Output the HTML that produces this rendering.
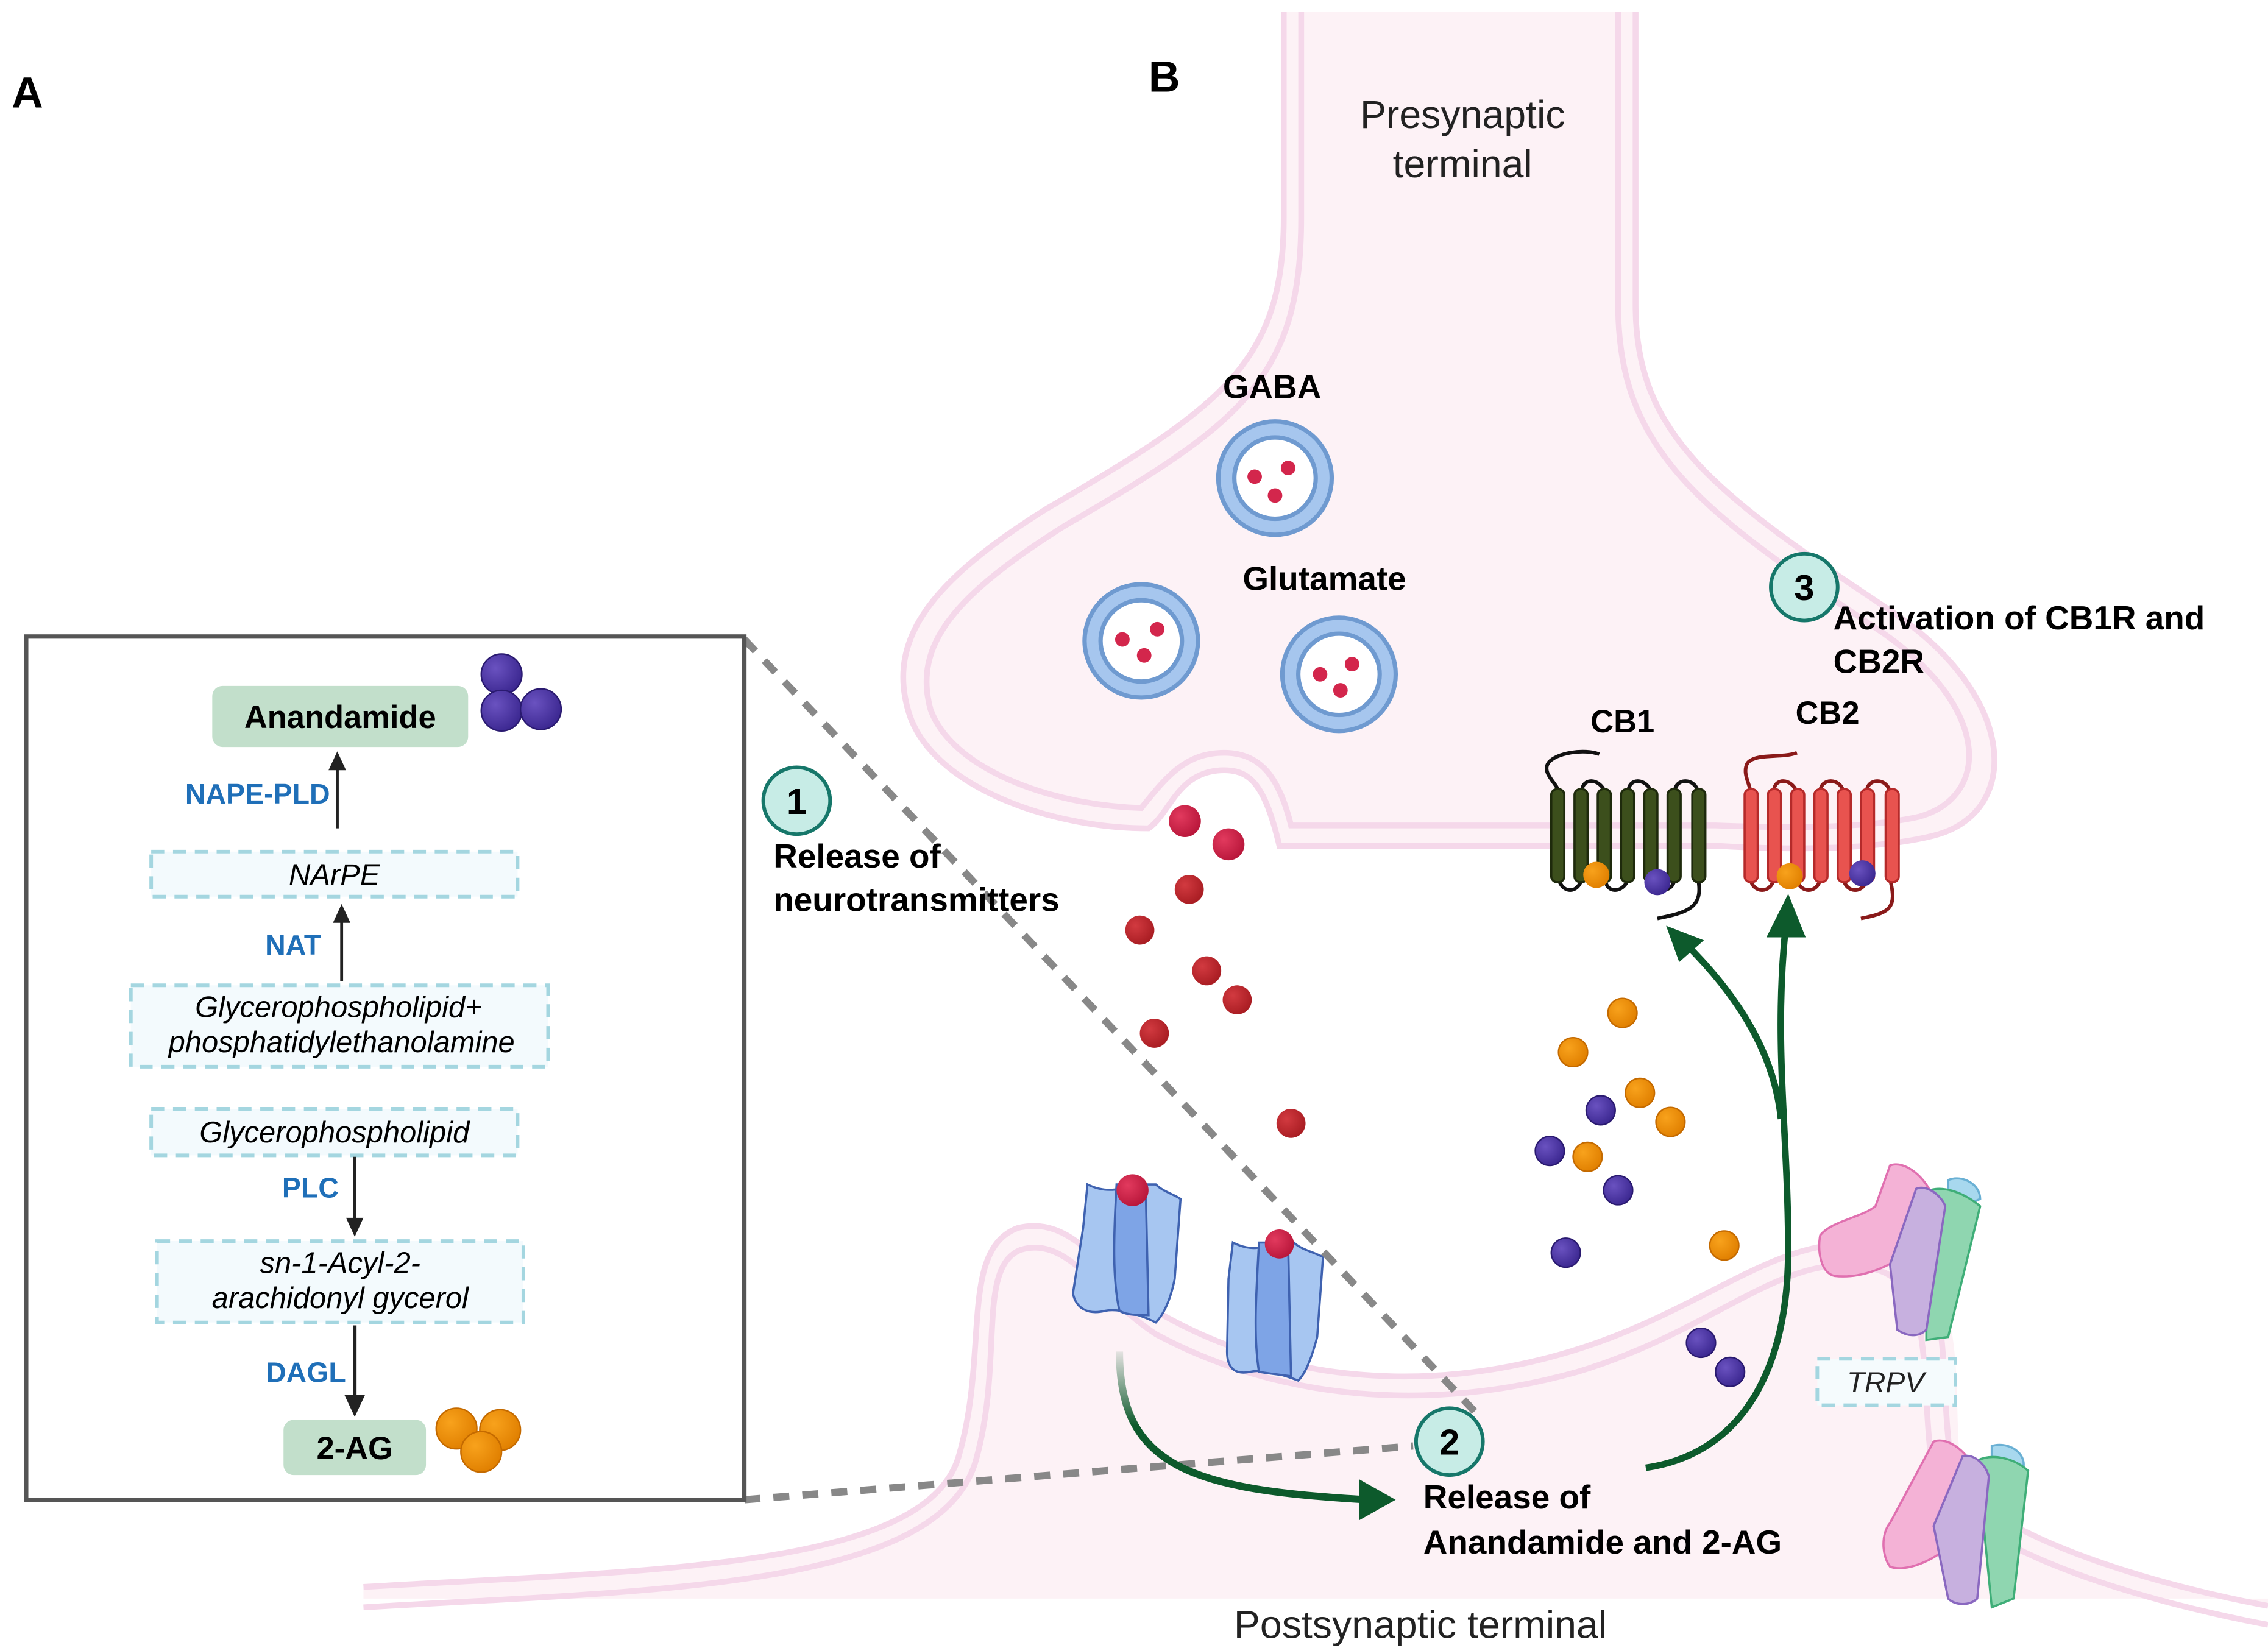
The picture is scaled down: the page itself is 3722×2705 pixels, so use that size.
<!DOCTYPE html>
<html><head><meta charset="utf-8"><style>
html,body{margin:0;padding:0;background:#fff}
svg{display:block}
text{font-family:"Liberation Sans",Arial,sans-serif}
</style></head><body>
<svg width="3722" height="2705" viewBox="0 0 1560 1134" preserveAspectRatio="none" xmlns="http://www.w3.org/2000/svg">
<defs>
<radialGradient id="pu" cx="0.35" cy="0.35" r="0.7"><stop offset="0" stop-color="#6a52c0"/><stop offset="1" stop-color="#3b2790"/></radialGradient>
<radialGradient id="or" cx="0.35" cy="0.35" r="0.7"><stop offset="0" stop-color="#f8a21c"/><stop offset="1" stop-color="#e07f00"/></radialGradient>
<radialGradient id="rd" cx="0.35" cy="0.35" r="0.7"><stop offset="0" stop-color="#d23a40"/><stop offset="1" stop-color="#a81c22"/></radialGradient>
<radialGradient id="rs" cx="0.35" cy="0.35" r="0.7"><stop offset="0" stop-color="#e23a5e"/><stop offset="1" stop-color="#b8163a"/></radialGradient>
<linearGradient id="ag" x1="0" y1="0" x2="0" y2="1"><stop offset="0" stop-color="#0d5a2c" stop-opacity="0.1"/><stop offset="0.5" stop-color="#0d5a2c"/></linearGradient>
</defs>
<rect width="1560" height="1134" fill="#fff"/>

<!-- Postsynaptic -->
<path d="M250 1100 L250 1092 C450 1080 640 1080 660 1000 C680 930 660 860 700 845 C740 835 760 880 800 905 C880 950 980 960 1080 930 C1180 900 1230 840 1300 860 C1360 880 1340 960 1350 1020 C1380 1060 1480 1090 1560 1105 L1560 1100 Z" fill="#fdf2f6"/>
<path d="M250 1092 C450 1080 640 1080 660 1000 C680 930 660 860 700 845 C740 835 760 880 800 905 C880 950 980 960 1080 930 C1180 900 1230 840 1300 860 C1350 875 1330 960 1345 1020 C1380 1060 1480 1090 1560 1105" fill="none" stroke="#f5d8ea" stroke-width="4"/>
<path d="M250 1106 C450 1094 650 1094 672 1002 C690 935 672 872 702 860 C735 850 755 892 795 918 C880 964 985 972 1085 944 C1185 914 1230 856 1292 874 C1335 888 1318 962 1332 1026 C1370 1072 1480 1103 1560 1118" fill="none" stroke="#f5d8ea" stroke-width="4"/>

<!-- Presynaptic -->
<path d="M883 8 L1125 8 L1125 210 C1125 300 1180 340 1300 420 C1390 480 1390 560 1330 575 C1290 585 1230 585 1180 582 L880 582 C870 540 860 530 842 530 C810 530 805 560 790 570 C720 570 640 540 625 490 C610 440 640 400 720 350 C840 280 883 250 883 150 Z" fill="#fdf2f6"/>
<path d="M883 8 L883 150 C883 250 840 280 720 350 C640 400 610 440 625 490 C640 540 720 570 790 570 C805 560 810 530 842 530 C860 530 870 540 880 582 L1180 582 C1230 585 1290 585 1330 575 C1390 560 1390 480 1300 420 C1180 340 1125 300 1125 210 L1125 8" fill="none" stroke="#f5d8ea" stroke-width="4"/>
<path d="M895 8 L895 150 C895 262 852 292 732 362 C656 410 628 444 640 488 C654 528 720 554 785 556 C802 535 815 518 842 518 C868 518 880 536 888 568 L1180 568 C1230 570 1285 570 1320 562 C1370 548 1370 485 1290 432 C1170 352 1113 310 1113 210 L1113 8" fill="none" stroke="#f5d8ea" stroke-width="4"/>

<text x="8" y="74" font-size="30" font-weight="bold">A</text>
<text x="790" y="63" font-size="30" font-weight="bold">B</text>
<text x="1006" y="88" font-size="27" text-anchor="middle" fill="#222">Presynaptic</text>
<text x="1006" y="122" font-size="27" text-anchor="middle" fill="#222">terminal</text>
<text x="977" y="1127" font-size="27" text-anchor="middle" fill="#222">Postsynaptic terminal</text>

<!-- vesicles -->
<g stroke="#6f9ad0" stroke-width="3">
<circle cx="877" cy="329" r="39" fill="#a6c6ee"/><circle cx="877" cy="329" r="28" fill="#fff"/>
<circle cx="785" cy="441" r="39" fill="#a6c6ee"/><circle cx="785" cy="441" r="28" fill="#fff"/>
<circle cx="921" cy="464" r="39" fill="#a6c6ee"/><circle cx="921" cy="464" r="28" fill="#fff"/>
</g>
<g fill="#d3264c">
<circle cx="863" cy="328" r="5"/><circle cx="886" cy="322" r="5"/><circle cx="877" cy="341" r="5"/>
<circle cx="772" cy="440" r="5"/><circle cx="796" cy="433" r="5"/><circle cx="787" cy="451" r="5"/>
<circle cx="908" cy="464" r="5"/><circle cx="930" cy="457" r="5"/><circle cx="922" cy="475" r="5"/>
</g>
<text x="875" y="274" font-size="23" font-weight="bold" text-anchor="middle">GABA</text>
<text x="911" y="406" font-size="23" font-weight="bold" text-anchor="middle">Glutamate</text>

<!-- released NT -->
<circle cx="815" cy="565" r="11" fill="url(#rs)"/><circle cx="845" cy="581" r="11" fill="url(#rs)"/>
<g fill="url(#rd)"><circle cx="818" cy="612" r="10"/><circle cx="784" cy="640" r="10"/><circle cx="830" cy="668" r="10"/><circle cx="851" cy="688" r="10"/><circle cx="794" cy="711" r="10"/><circle cx="888" cy="773" r="10"/></g>

<!-- cannabinoids -->
<g fill="url(#or)" stroke="#c46a00" stroke-width="1"><circle cx="1116" cy="697" r="10"/><circle cx="1082" cy="724" r="10"/><circle cx="1128" cy="752" r="10"/><circle cx="1149" cy="772" r="10"/><circle cx="1092" cy="796" r="10"/><circle cx="1186" cy="857" r="10"/></g>
<g fill="url(#pu)" stroke="#2a1a70" stroke-width="1"><circle cx="1101" cy="764" r="10"/><circle cx="1066" cy="792" r="10"/><circle cx="1113" cy="819" r="10"/><circle cx="1077" cy="862" r="10"/><circle cx="1170" cy="924" r="10"/><circle cx="1190" cy="944" r="10"/></g>

<!-- CB1 -->
<text x="1116" y="504" font-size="22" font-weight="bold" text-anchor="middle">CB1</text>
<path d="M1100 519 C1090 515 1070 518 1065 525 C1060 532 1072 540 1072 545 M1072 605 C1075 615 1085 615 1088 605 M1088 545 C1088 535 1100 535 1104 545 M1104 605 C1105 615 1116 615 1120 605 M1120 545 C1120 535 1132 535 1136 545 M1136 605 C1138 615 1150 615 1152 605 M1152 545 C1152 535 1166 535 1168 545 M1168 605 C1172 625 1160 628 1140 632" fill="none" stroke="#111" stroke-width="2.5"/>
<g fill="#3c4f1c" stroke="#1e2a0c" stroke-width="1.5">
<rect x="1067" y="543" width="9" height="64" rx="4"/><rect x="1083" y="543" width="9" height="64" rx="4"/><rect x="1099" y="543" width="9" height="64" rx="4"/><rect x="1115" y="543" width="9" height="64" rx="4"/><rect x="1131" y="543" width="9" height="64" rx="4"/><rect x="1147" y="543" width="9" height="64" rx="4"/><rect x="1164" y="543" width="9" height="64" rx="4"/></g>
<circle cx="1098" cy="602" r="9" fill="url(#or)"/><circle cx="1140" cy="607" r="9" fill="url(#pu)"/>

<!-- CB2 -->
<text x="1257" y="498" font-size="22" font-weight="bold" text-anchor="middle">CB2</text>
<path d="M1236 518 C1225 522 1208 518 1202 525 C1198 532 1204 540 1204 545 M1204 605 C1206 615 1218 615 1220 605 M1220 545 C1220 535 1232 535 1236 545 M1236 605 C1238 615 1250 615 1252 605 M1252 545 C1252 535 1266 535 1268 545 M1268 605 C1270 615 1282 615 1284 605 M1284 545 C1284 535 1298 535 1300 545 M1300 605 C1305 625 1300 628 1280 632" fill="none" stroke="#8a1a1a" stroke-width="2.5"/>
<g fill="#e8534f" stroke="#b52a2a" stroke-width="1.5">
<rect x="1200" y="543" width="9" height="64" rx="4"/><rect x="1216" y="543" width="9" height="64" rx="4"/><rect x="1232" y="543" width="9" height="64" rx="4"/><rect x="1248" y="543" width="9" height="64" rx="4"/><rect x="1264" y="543" width="9" height="64" rx="4"/><rect x="1280" y="543" width="9" height="64" rx="4"/><rect x="1297" y="543" width="9" height="64" rx="4"/></g>
<circle cx="1231" cy="603" r="9" fill="url(#or)"/><circle cx="1281" cy="601" r="9" fill="url(#pu)"/>

<!-- Ion channels -->
<g stroke="#3f62b0" stroke-width="1.5">
<path d="M748 815 C758 820 770 820 775 815 L795 815 C800 820 808 822 812 825 L808 880 C805 895 800 905 795 910 C785 905 770 900 760 902 C748 905 740 900 738 890 L745 845 Z" fill="#a7c6f1"/>
<path d="M768 815 L788 815 L790 905 C783 905 775 905 770 902 C765 880 766 850 768 815 Z" fill="#7ea4e6"/>
<path d="M848 855 C858 860 868 860 872 855 L890 855 C895 860 905 862 910 865 L906 920 C902 935 898 945 893 950 C880 945 868 942 860 944 C850 946 844 942 844 930 L845 880 Z" fill="#a7c6f1"/>
<path d="M866 855 L886 855 L888 947 C880 946 872 945 866 944 C862 920 864 890 866 855 Z" fill="#7ea4e6"/>
</g>
<circle cx="779" cy="819" r="11" fill="url(#rs)"/><circle cx="880" cy="856" r="10" fill="url(#rs)"/>

<!-- TRPV -->
<g stroke-width="1.5">
<path d="M1340 812 C1350 808 1362 815 1362 825 L1340 835 Z" fill="#a8d8ee" stroke="#6ab0d4"/>
<path d="M1325 820 C1335 815 1350 820 1362 830 L1340 920 L1325 922 Z" fill="#8fd6b0" stroke="#3fae78"/>
<path d="M1300 802 C1310 798 1325 810 1330 825 L1315 860 C1300 872 1280 880 1262 878 C1252 876 1250 860 1252 850 C1260 840 1280 838 1290 830 Z" fill="#f4b2d6" stroke="#e070b0"/>
<path d="M1318 818 C1325 815 1335 822 1338 830 L1325 915 C1320 920 1312 920 1305 915 L1300 870 Z" fill="#c7b0df" stroke="#8a68c0"/>
<path d="M1370 995 C1380 992 1392 998 1392 1008 L1370 1015 Z" fill="#a8d8ee" stroke="#6ab0d4"/>
<path d="M1360 1005 C1370 1000 1385 1003 1395 1012 L1385 1100 L1370 1106 Z" fill="#8fd6b0" stroke="#3fae78"/>
<path d="M1330 992 C1340 988 1355 1000 1360 1015 L1345 1060 C1330 1075 1310 1082 1300 1078 C1294 1070 1294 1055 1300 1048 Z" fill="#f4b2d6" stroke="#e070b0"/>
<path d="M1350 1002 C1358 1000 1366 1008 1368 1016 L1360 1100 C1355 1105 1345 1105 1340 1100 L1330 1050 Z" fill="#c7b0df" stroke="#8a68c0"/>
</g>
<rect x="1250" y="935" width="95" height="32" fill="#f5fbfd" stroke="#a4d6e0" stroke-width="2.5" stroke-dasharray="9,6"/>
<text x="1297" y="958" font-size="20" font-style="italic" text-anchor="middle" fill="#222">TRPV</text>

<!-- dashed zoom lines -->
<line x1="512" y1="440" x2="1015" y2="972" stroke="#888" stroke-width="5" stroke-dasharray="11,9"/>
<line x1="512" y1="1032" x2="972" y2="995" stroke="#888" stroke-width="5" stroke-dasharray="11,9"/>

<!-- arrows -->
<path d="M770 930 C770 1010 820 1025 940 1032" fill="none" stroke="url(#ag)" stroke-width="5"/>
<path d="M935 1018 L960 1032 L935 1046 Z" fill="#0d5a2c"/>
<path d="M1132 1010 C1200 1000 1230 940 1230 860 C1230 780 1220 720 1228 640" fill="none" stroke="#0d5a2c" stroke-width="4.5"/>
<path d="M1215 645 L1230 615 L1242 645 Z" fill="#0d5a2c"/>
<path d="M1225 770 C1220 720 1190 680 1160 650" fill="none" stroke="#0d5a2c" stroke-width="4.5"/>
<path d="M1146 637 L1172 647 L1155 662 Z" fill="#0d5a2c"/>

<!-- numbered circles -->
<g stroke="#16776a" stroke-width="2.5" fill="#c7ece6">
<circle cx="548" cy="551" r="23"/><circle cx="997" cy="992" r="23"/><circle cx="1241" cy="404" r="23"/></g>
<g font-size="25" font-weight="bold" text-anchor="middle"><text x="548" y="560">1</text><text x="997" y="1001">2</text><text x="1241" y="413">3</text></g>
<g font-size="23" font-weight="bold">
<text x="532" y="597">Release of</text><text x="532" y="627">neurotransmitters</text>
<text x="979" y="1038">Release of</text><text x="979" y="1069">Anandamide and 2-AG</text>
<text x="1261" y="433">Activation of CB1R and</text><text x="1261" y="463">CB2R</text>
</g>

<!-- Panel A box -->
<rect x="18" y="438" width="494" height="594" fill="#fff" stroke="#555" stroke-width="3"/>
<rect x="146" y="472" width="176" height="42" rx="7" fill="#c2dfcb"/>
<text x="234" y="501" font-size="22" font-weight="bold" text-anchor="middle">Anandamide</text>
<g fill="url(#pu)" stroke="#2a1a70" stroke-width="1"><circle cx="345" cy="464" r="14"/><circle cx="345" cy="489" r="14"/><circle cx="372" cy="488" r="14"/></g>
<text x="227" y="553" font-size="19.5" font-weight="bold" fill="#1f6fb8" text-anchor="end">NAPE-PLD</text>
<line x1="232" y1="570" x2="232" y2="528" stroke="#222" stroke-width="2"/><path d="M226 530 L232 517 L238 530 Z" fill="#222"/>
<rect x="104" y="586" width="252" height="31" fill="#f3fafd" stroke="#a4d6e0" stroke-width="2.5" stroke-dasharray="9,6"/>
<text x="230" y="609" font-size="20.5" font-style="italic" text-anchor="middle">NArPE</text>
<text x="221" y="657" font-size="19.5" font-weight="bold" fill="#1f6fb8" text-anchor="end">NAT</text>
<line x1="235" y1="675" x2="235" y2="633" stroke="#222" stroke-width="2"/><path d="M229 635 L235 622 L241 635 Z" fill="#222"/>
<rect x="90" y="678" width="287" height="56" fill="#f3fafd" stroke="#a4d6e0" stroke-width="2.5" stroke-dasharray="9,6"/>
<text x="233" y="700" font-size="20.5" font-style="italic" text-anchor="middle">Glycerophospholipid+</text>
<text x="235" y="724" font-size="20.5" font-style="italic" text-anchor="middle">phosphatidylethanolamine</text>
<rect x="104" y="763" width="252" height="32" fill="#f3fafd" stroke="#a4d6e0" stroke-width="2.5" stroke-dasharray="9,6"/>
<text x="230" y="786" font-size="20.5" font-style="italic" text-anchor="middle">Glycerophospholipid</text>
<text x="233" y="824" font-size="19.5" font-weight="bold" fill="#1f6fb8" text-anchor="end">PLC</text>
<line x1="244" y1="796" x2="244" y2="840" stroke="#222" stroke-width="2"/><path d="M238 838 L244 851 L250 838 Z" fill="#222"/>
<rect x="108" y="854" width="252" height="56" fill="#f3fafd" stroke="#a4d6e0" stroke-width="2.5" stroke-dasharray="9,6"/>
<text x="234" y="876" font-size="20.5" font-style="italic" text-anchor="middle">sn-1-Acyl-2-</text>
<text x="234" y="900" font-size="20.5" font-style="italic" text-anchor="middle">arachidonyl gycerol</text>
<text x="238" y="951" font-size="19.5" font-weight="bold" fill="#1f6fb8" text-anchor="end">DAGL</text>
<line x1="244" y1="912" x2="244" y2="962" stroke="#222" stroke-width="2.5"/><path d="M237 960 L244 975 L251 960 Z" fill="#222"/>
<rect x="195" y="977" width="98" height="38" rx="7" fill="#c2dfcb"/>
<text x="244" y="1004" font-size="22" font-weight="bold" text-anchor="middle">2-AG</text>
<g fill="url(#or)" stroke="#c46a00" stroke-width="1"><circle cx="314" cy="983" r="14"/><circle cx="344" cy="984" r="14"/><circle cx="331" cy="999" r="14"/></g>
</svg>
</body></html>
